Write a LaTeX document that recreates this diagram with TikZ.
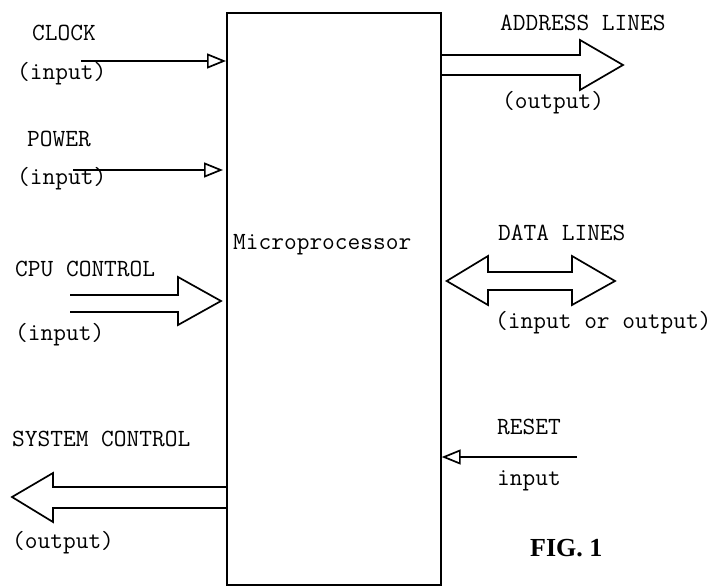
\documentclass[tikz,border=0pt]{standalone}
\usepackage{fontspec}
\newfontfamily\figfont{Liberation Serif}
\usetikzlibrary{arrows.meta,calc}
\begin{document}
\begin{tikzpicture}[x=1pt,y=-1pt,
  lbl/.style={font=\ttfamily\fontsize{24.7}{26}\selectfont, anchor=base west, inner sep=0pt},
  figlbl/.style={font=\figfont\bfseries\fontsize{26}{28}\selectfont, anchor=base west, inner sep=0pt},
  thinarrow/.style={line width=1.6pt, -{Triangle[open,length=19pt,width=15pt,line width=1.7pt]}},
  fatarrow/.style={line width=1.7pt, line join=miter}]
\useasboundingbox (0,0) rectangle (717,586);
% processor box
\node[draw, line width=1.7pt, minimum width=214pt, minimum height=572pt, inner sep=0pt, anchor=north west] (box) at (226,12) {};
\node[lbl] (mp) at (233,249) {Microprocessor};
% labels
\node[lbl] (clk) at (32,41) {CLOCK};
\node[lbl] (clkin) at (17,79) {(input)};
\node[lbl] (pwr) at (27,146) {POWER};
\node[lbl] (pwrin) at (17,184) {(input)};
\node[lbl] (cpu) at (15,276) {CPU CONTROL};
\node[lbl] (cpuin) at (15,340) {(input)};
\node[lbl] (addr) at (500,31) {ADDRESS LINES};
\node[lbl] (addrout) at (502,108) {(output)};
\node[lbl] (data) at (498,240) {DATA LINES};
\node[lbl] (dataio) at (495,328) {(input or output)};
\node[lbl] (rst) at (497,434) {RESET};
\node[lbl] (rstin) at (497,485) {input};
\node[lbl] (sys) at (12,446) {SYSTEM CONTROL};
\node[lbl] (sysout) at (12,548) {(output)};
\node[figlbl] (fig) at (530,556) {FIG. 1};
% free ends
\coordinate (clkS) at (81,61);
\coordinate (pwrS) at (73,170);
\coordinate (rstS) at (577,457);
% thin arrows
\draw[thinarrow] (clkS) -- (box.west |- clkS);
\draw[thinarrow, shorten >=3pt] (pwrS) -- (box.west |- pwrS);
\draw[thinarrow] (rstS) -- (box.east |- rstS);
% CPU control (input)
\draw[fatarrow] (70,295) -- (178,295) -- (178,277) -- ($(box.west |- 0,301)+(-5,0)$) -- (178,325) -- (178,312) -- (70,312);
% address lines (output)
\draw[fatarrow] (box.east |- 0,55) -- (580,55) -- (580,40) -- (623,65) -- (580,90) -- (580,75) -- (box.east |- 0,75);
% data lines (bidirectional)
\draw[fatarrow] ($(box.east |- 0,281)+(5,0)$) -- (488,256) -- (488,272) -- (572,272) -- (572,256) -- (615,281) -- (572,305) -- (572,290) -- (488,290) -- (488,305) -- cycle;
% system control (output)
\draw[fatarrow] (box.west |- 0,487) -- (53,487) -- (53,473) -- (12,497) -- (53,522) -- (53,508) -- (box.west |- 0,508);
\end{tikzpicture}
\end{document}
